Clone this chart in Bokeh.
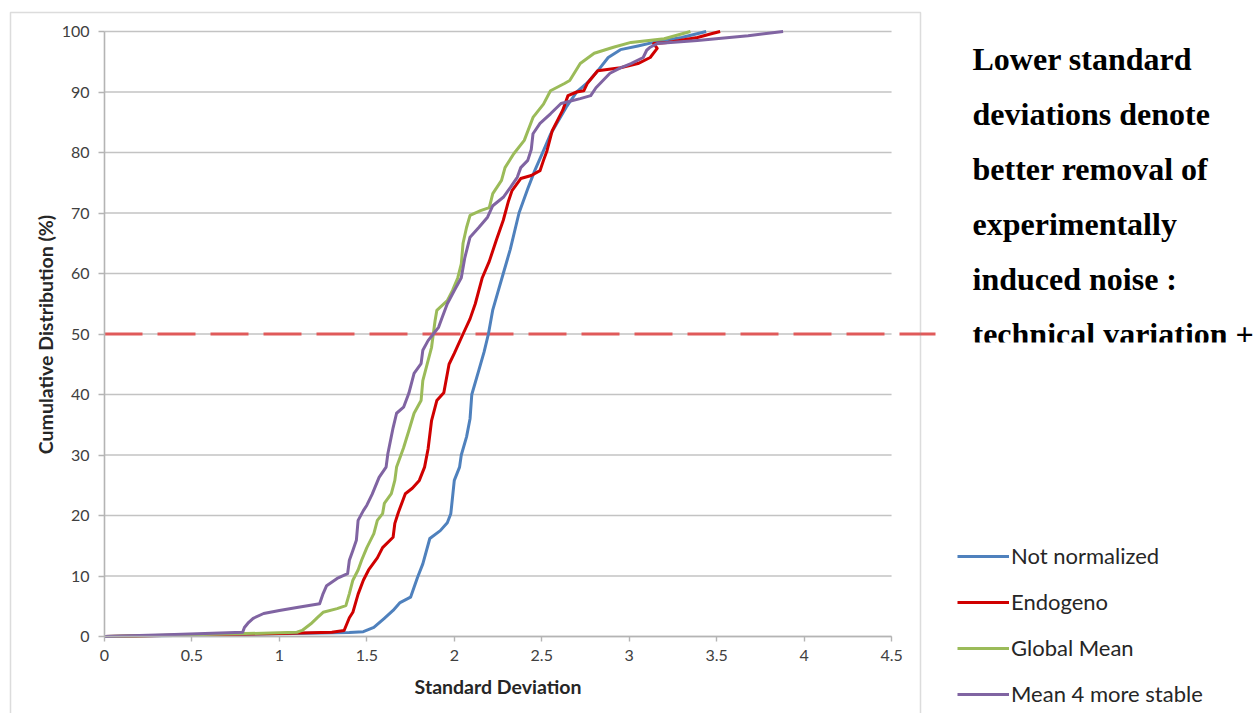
from bokeh.plotting import figure
from bokeh.models import (Range1d, Label, Legend, LegendItem, BoxAnnotation, FixedTicker)
from bokeh.embed import file_html
from bokeh.resources import INLINE
import math

# ---------------- data ----------------
x_ticks = [0, 0.5, 1, 1.5, 2, 2.5, 3, 3.5, 4, 4.5]
x_tick_labels = ["0", "0.5", "1", "1.5", "2", "2.5", "3", "3.5", "4", "4.5"]
y_ticks = [0, 10, 20, 30, 40, 50, 60, 70, 80, 90, 100]

not_norm_x = [0, 0.5, 1.0, 1.4, 1.48, 1.54, 1.60, 1.65, 1.69, 1.75, 1.79, 1.82, 1.86, 1.92,
              1.96, 1.98, 2.0, 2.03, 2.04, 2.07, 2.09, 2.10, 2.14, 2.17, 2.195, 2.22, 2.25,
              2.28, 2.32, 2.37, 2.42, 2.46, 2.51, 2.55, 2.59, 2.64, 2.70, 2.76, 2.82, 2.88,
              2.95, 3.05, 3.14, 3.30, 3.44]
not_norm_y = [0, 0.2, 0.45, 0.65, 0.8, 1.5, 3, 4.3, 5.6, 6.5, 9.8, 12, 16.2, 17.5,
              18.8, 20.3, 25.8, 28, 30, 33, 36, 40, 44, 47, 50, 54, 57,
              60, 64, 70, 74, 77, 80.3, 83, 85, 87.5, 90, 91.5, 93.5, 95.7,
              97, 97.6, 98.2, 99, 100]

endo_x = [0, 0.5, 1.0, 1.3, 1.37, 1.40, 1.42, 1.45, 1.48, 1.51, 1.56, 1.59, 1.65, 1.66,
          1.68, 1.72, 1.76, 1.80, 1.83, 1.85, 1.87, 1.90, 1.94, 1.97, 2.0, 2.05, 2.09,
          2.12, 2.16, 2.20, 2.24, 2.28, 2.31, 2.33, 2.38, 2.44, 2.49, 2.51, 2.53, 2.56,
          2.59, 2.62, 2.65, 2.70, 2.74, 2.76, 2.82, 2.95, 3.05, 3.12, 3.16, 3.14, 3.22,
          3.39, 3.48, 3.52]
endo_y = [0, 0.25, 0.5, 0.7, 1, 3.1, 4, 7, 9.3, 11, 13, 14.7, 16.4, 18.7,
          20.5, 23.6, 24.5, 25.8, 28, 31, 35.7, 39, 40.3, 45, 46.8, 50, 52.5,
          55, 59.3, 62, 65.5, 68.8, 72, 73.7, 75.7, 76.2, 77, 78.7, 80.3, 83.6,
          85.3, 87, 89.4, 90, 90.2, 91.4, 93.5, 94, 94.7, 95.7, 97.2, 98, 98.2,
          99, 99.7, 100]

gmean_x = [0, 0.5, 1.0, 1.1, 1.13, 1.18, 1.22, 1.25, 1.33, 1.38, 1.40, 1.42, 1.45, 1.47,
           1.50, 1.54, 1.56, 1.59, 1.60, 1.64, 1.66, 1.67, 1.71, 1.74, 1.77, 1.81, 1.82,
           1.85, 1.87, 1.88, 1.89, 1.90, 1.96, 1.99, 2.02, 2.04, 2.05, 2.07, 2.09, 2.15,
           2.20, 2.22, 2.27, 2.29, 2.34, 2.40, 2.45, 2.51, 2.55, 2.63, 2.66, 2.72, 2.80,
           2.91, 3.01, 3.20, 3.35]
gmean_y = [0, 0.3, 0.6, 0.7, 1, 2.1, 3.2, 4, 4.6, 5.1, 7.1, 9.3, 11, 12.6,
           14.7, 17, 19.2, 20.3, 22, 23.6, 25.8, 28, 31.2, 34, 36.9, 39, 42.3,
           45.6, 47.8, 50, 52.2, 53.9, 55.5, 57.2, 59.3, 61.6, 65, 67.6, 69.6, 70.4,
           70.9, 73.2, 75.4, 77.5, 79.8, 82, 85.8, 88, 90.2, 91.4, 91.9, 94.7, 96.4,
           97.4, 98.2, 98.8, 100]

m4_x = [0, 0.4, 0.79, 0.80, 0.82, 0.85, 0.91, 1.0, 1.10, 1.23, 1.25, 1.27, 1.33, 1.39,
        1.40, 1.42, 1.44, 1.45, 1.48, 1.50, 1.53, 1.57, 1.61, 1.62, 1.65, 1.67, 1.71,
        1.74, 1.77, 1.81, 1.82, 1.85, 1.88, 1.91, 1.93, 1.96, 2.0, 2.04, 2.06, 2.09,
        2.14, 2.19, 2.22, 2.28, 2.32, 2.36, 2.38, 2.42, 2.44, 2.45, 2.49, 2.55, 2.61,
        2.72, 2.78, 2.81, 2.85, 2.89, 2.95, 3.01, 3.08, 3.10, 3.12, 3.16, 3.39, 3.68, 3.88]
m4_y = [0, 0.35, 0.7, 1.5, 2.2, 3, 3.8, 4.3, 4.8, 5.4, 7.1, 8.4, 9.6, 10.4,
        12.6, 14.2, 15.9, 19.2, 20.8, 21.7, 23.5, 26.3, 28, 30.2, 34.5, 36.9, 37.9,
        40.2, 43.5, 45.1, 47.3, 48.9, 50, 51.1, 52.7, 55, 57.2, 59.3, 62.6, 66,
        67.6, 69.3, 71.2, 72.6, 74.2, 75.9, 77.5, 78.7, 80.5, 83.1, 84.8, 86.4, 88.1,
        88.9, 89.4, 90.7, 91.9, 93.1, 94, 94.7, 95.7, 96.9, 97.4, 98, 98.5, 99.3, 100]

series_names = ["Not normalized", "Endogeno", "Global Mean", "Mean 4 more stable"]
series_colors = ["#4f81bd", "#d00000", "#9bbb59", "#8064a2"]
threshold = 50

note_lines = ["Lower standard", "deviations denote", "better removal of",
              "experimentally", "induced noise :", "technical variation +"]

# ---------------- layout helpers (pixel <-> data for the canvas) ----------------
W, H = 1260, 713
X0_PX, PX_PER_X = 104.0, 174.9     # x = 0 at 104 px, 174.9 px per unit
Y0_PX, PX_PER_Y = 636.0, 6.05      # y = 0 at 636 px, 6.05 px per percent


def dx(px):
    return (px - X0_PX) / PX_PER_X


def dy(py):
    return (Y0_PX - py) / PX_PER_Y


FONT = "Lato"
p = figure(width=W, height=H, output_backend="svg", toolbar_location=None,
           x_range=Range1d(dx(0), dx(W)), y_range=Range1d(dy(H), dy(0)),
           min_border=0, min_border_left=0, min_border_right=0,
           min_border_top=0, min_border_bottom=0)
p.outline_line_color = None
p.background_fill_color = "white"
p.border_fill_color = "white"
p.xgrid.visible = False
p.ygrid.visible = False

GRID = "#c3c3c3"
AXIS = "#b4b4b4"

# chart border (Excel chart area)
p.add_layout(BoxAnnotation(left=dx(10), right=dx(920), top=dy(12), bottom=dy(H + 20),
                           fill_alpha=0, line_color="#8a8a8a", line_width=1.5))

# horizontal gridlines ending at the last x tick
p.segment(x0=[x_ticks[0]] * len(y_ticks), x1=[x_ticks[-1]] * len(y_ticks),
          y0=y_ticks, y1=y_ticks, line_color=GRID, line_width=1.6)

for ax in (p.xaxis[0], p.yaxis[0]):
    ax.fixed_location = 0
    ax.axis_line_color = AXIS
    ax.axis_line_width = 1.6
    ax.major_tick_line_color = AXIS
    ax.major_tick_line_width = 1.4
    ax.minor_tick_line_color = None
    ax.major_label_text_font = FONT
    ax.major_label_text_font_size = "16px"
    ax.major_label_text_color = "#404040"

p.xaxis.bounds = (x_ticks[0], x_ticks[-1])
p.xaxis.ticker = FixedTicker(ticks=x_ticks)
p.xaxis.major_label_overrides = {t: l for t, l in zip(x_ticks, x_tick_labels)}
p.xaxis.major_tick_in = 0
p.xaxis.major_tick_out = 5
p.xaxis.major_label_standoff = 8

p.yaxis.bounds = (y_ticks[0], y_ticks[-1])
p.yaxis.ticker = FixedTicker(ticks=y_ticks)
p.yaxis.major_tick_in = 0
p.yaxis.major_tick_out = 6
p.yaxis.major_label_standoff = 9

# threshold line (extends a little beyond the chart area, as in the slide)
p.segment(x0=[0], x1=[dx(935)], y0=[threshold], y1=[threshold],
          line_color="#e05a5a", line_width=3, line_dash="38 15")

# series
renderers = []
for xs, ys, c in [(not_norm_x, not_norm_y, series_colors[0]),
                  (endo_x, endo_y, series_colors[1]),
                  (gmean_x, gmean_y, series_colors[2]),
                  (m4_x, m4_y, series_colors[3])]:
    r = p.line(xs, ys, line_color=c, line_width=3, line_join="round")
    renderers.append(r)

legend = Legend(items=[LegendItem(label=n, renderers=[r]) for n, r in zip(series_names, renderers)],
                location=(957, H - 707), orientation="vertical",
                border_line_alpha=0, background_fill_alpha=0,
                label_text_font=FONT, label_text_font_size="22px", label_text_color="#262626",
                glyph_width=52, glyph_height=26, label_height=26, label_standoff=2,
                spacing=19, padding=0, margin=0)
p.add_layout(legend, "center")

# axis titles
p.add_layout(Label(x=(x_ticks[0] + x_ticks[-1]) / 2, y=dy(686), text="Standard Deviation",
                   text_align="center", text_baseline="middle", text_font=FONT,
                   text_font_style="bold", text_font_size="19.5px", text_color="#262626"))
p.add_layout(Label(x=dx(45), y=dy(334), text="Cumulative Distribution (%)", angle=math.pi / 2,
                   text_align="center", text_baseline="middle", text_font=FONT,
                   text_font_style="bold", text_font_size="19.5px", text_color="#262626"))

# side note (slide text box; its last line is cut by the box edge)
for i, t in enumerate(note_lines):
    p.add_layout(Label(x=dx(972), y=dy(58 + 55 * i), text=t,
                       text_align="left", text_baseline="alphabetic",
                       text_font="Liberation Serif", text_font_style="bold",
                       text_font_size="32px", text_color="black"))
p.add_layout(BoxAnnotation(left=dx(950), right=dx(W), top=dy(342), bottom=dy(372),
                           fill_color="white", fill_alpha=1, line_alpha=0))

open("out.html", "w").write(file_html(p, INLINE))
